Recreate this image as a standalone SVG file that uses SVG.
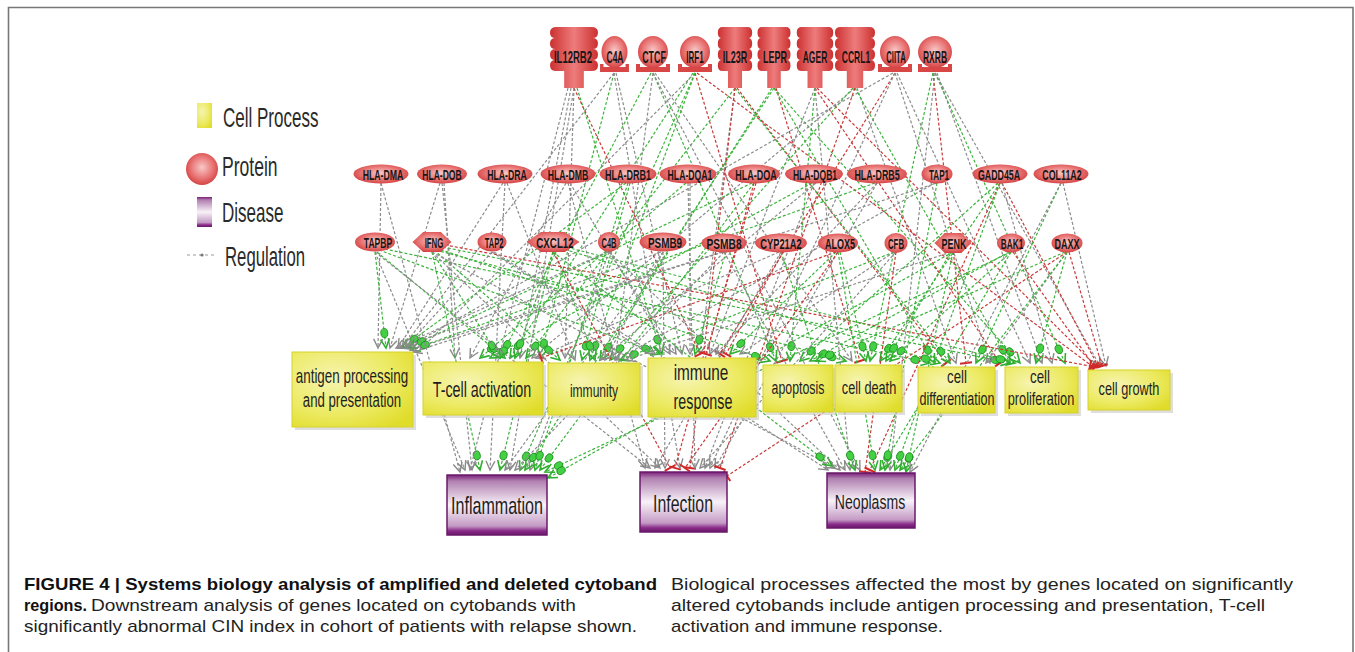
<svg xmlns="http://www.w3.org/2000/svg" xmlns:xlink="http://www.w3.org/1999/xlink" width="1355" height="652" viewBox="0 0 1355 652">
<style>
.t{font-family:"Liberation Sans",Arial,sans-serif;fill:#1e1e1e;text-anchor:middle}
.lab{font-size:17px;font-weight:bold;fill:#161616}
.el{font-size:15px;font-weight:bold;fill:#161616}
.leg{font-family:"Liberation Sans",Arial,sans-serif;fill:#2a2a2a;font-size:27px}
.cap{font-family:"Liberation Sans",Arial,sans-serif;fill:#222;font-size:17px}
.capb{font-weight:bold;fill:#111}
.c{fill:none;stroke-width:1.2;stroke-dasharray:3 2}
.g{stroke:#8c8c8c;marker-end:url(#mg)}
.v{stroke:#3cb43c;marker-end:url(#mv)}
.r{stroke:#c83a3a;marker-end:url(#mr)}
.rec{fill:url(#gRec)}
.ell{fill:url(#gEl)}
.pbox{fill:url(#gY);stroke:#d6d22a;stroke-width:1}
.dbox{fill:url(#gP);stroke:#6a1a6a;stroke-width:1.5}
.shadow{fill:#c8c8c8;opacity:0.6}
</style>
<defs>
<linearGradient id="gRec" x1="0" y1="0" x2="1" y2="0"><stop offset="0" stop-color="#cc3030"/><stop offset="0.5" stop-color="#ee7c7c"/><stop offset="1" stop-color="#cc3030"/></linearGradient>
<radialGradient id="gEl" cx="0.5" cy="0.45" r="0.6"><stop offset="0" stop-color="#f8c8c8"/><stop offset="0.55" stop-color="#ea7878"/><stop offset="1" stop-color="#d03838"/></radialGradient>
<radialGradient id="gY" cx="0.35" cy="0.35" r="0.8"><stop offset="0" stop-color="#f6f4b0"/><stop offset="0.6" stop-color="#ecea62"/><stop offset="1" stop-color="#e0dc2a"/></radialGradient>
<linearGradient id="gP" x1="0" y1="0" x2="0" y2="1"><stop offset="0" stop-color="#7a1f7a"/><stop offset="0.1" stop-color="#b080b0"/><stop offset="0.5" stop-color="#f8f2f8"/><stop offset="0.85" stop-color="#c49ac4"/><stop offset="0.93" stop-color="#8a2c8a"/><stop offset="1" stop-color="#6a166a"/></linearGradient>
<path id="recShape" d="M-16,0 H16 Q22,0 22,5.5 Q22,11 17,11 Q22,11 22,16.5 Q22,22 17,22 Q22,22 22,27.5 Q22,33 17,33 Q22,33 22,38.5 Q22,44 16,44 H9 V61 H-9 V44 H-16 Q-22,44 -22,38.5 Q-22,33 -17,33 Q-22,33 -22,27.5 Q-22,22 -17,22 Q-22,22 -22,16.5 Q-22,11 -17,11 Q-22,11 -22,5.5 Q-22,0 -16,0 Z"/>
<path id="base" d="M-17,-3 h4 v3 h26 v-3 h4 v8 h-34 z"/>
<polygon id="hexa" points="-1,0 -0.45,-10 0.45,-10 1,0 0.45,10 -0.45,10"/>
<marker id="mg" markerUnits="userSpaceOnUse" markerWidth="1" markerHeight="1" refX="0" refY="0" orient="auto" overflow="visible" style="overflow:visible">
<path d="M-9,-4.5 L0,0 L-9,4.5" fill="none" stroke="#8a8a8a" stroke-width="1.4"/>
</marker>
<marker id="mv" markerUnits="userSpaceOnUse" markerWidth="1" markerHeight="1" refX="0" refY="0" orient="auto" overflow="visible" style="overflow:visible">
<path d="M-9,-4.5 L0,0 L-9,4.5" fill="none" stroke="#2fae2f" stroke-width="1.6"/>
<ellipse cx="-15" cy="0" rx="4.5" ry="3.5" fill="#44d044" stroke="#1c8a1c" stroke-width="0.8"/>
</marker>
<marker id="mr" markerUnits="userSpaceOnUse" markerWidth="1" markerHeight="1" refX="0" refY="0" orient="auto" overflow="visible" style="overflow:visible">
<path d="M0,-6 V6" stroke="#d02828" stroke-width="2"/>
</marker>
</defs>
<rect width="1355" height="652" fill="#fff"/>
<path d="M8.5,652 V7.5 H1353 V652" fill="none" stroke="#777" stroke-width="1.6"/>

<g id="legend">
<rect x="197" y="103" width="15" height="25" fill="url(#gY)"/>
<text class="leg" transform="translate(223,127) scale(0.63,1)">Cell Process</text>
<circle cx="202" cy="169" r="16" fill="url(#gEl)"/>
<text class="leg" transform="translate(222,176) scale(0.65,1)">Protein</text>
<rect x="197" y="197" width="15" height="30" fill="url(#gP)"/>
<text class="leg" transform="translate(222,222) scale(0.63,1)">Disease</text>
<path d="M187,255 H217" stroke="#999" stroke-width="1.2" stroke-dasharray="3 3"/>
<circle cx="202" cy="255" r="1.6" fill="#777"/>
<text class="leg" transform="translate(225,266) scale(0.62,1)">Regulation</text>
</g>

<g id="connectors">
<path class="c g" d="M574 88 L565 358"/>
<path class="c g" d="M571 88 L520 358"/>
<path class="c v" d="M577 88 L662 354"/>
<path class="c g" d="M614 73 L402 348"/>
<path class="c g" d="M616 73 L682 354"/>
<path class="c v" d="M653 73 L776 361"/>
<path class="c g" d="M655 73 L852 361"/>
<path class="c v" d="M651 73 L500 358"/>
<path class="c r" d="M695 73 L782 361"/>
<path class="c v" d="M693 73 L510 358"/>
<path class="c v" d="M695 73 L590 360"/>
<path class="c r" d="M697 73 L1092 366"/>
<path class="c v" d="M735 88 L526 358"/>
<path class="c g" d="M735 88 L700 354"/>
<path class="c r" d="M737 88 L946 363"/>
<path class="c v" d="M774 88 L1020 363"/>
<path class="c v" d="M772 88 L600 360"/>
<path class="c r" d="M776 88 L860 361"/>
<path class="c g" d="M815 88 L710 354"/>
<path class="c v" d="M815 88 L790 361"/>
<path class="c r" d="M817 88 L1096 366"/>
<path class="c g" d="M855 88 L532 358"/>
<path class="c v" d="M853 88 L610 360"/>
<path class="c g" d="M857 88 L956 363"/>
<path class="c r" d="M895 73 L720 354"/>
<path class="c g" d="M893 73 L406 348"/>
<path class="c g" d="M897 73 L1030 363"/>
<path class="c g" d="M935 73 L1100 366"/>
<path class="c r" d="M933 73 L966 363"/>
<path class="c v" d="M933 73 L870 361"/>
<path class="c g" d="M937 73 L1042 363"/>
<path class="c v" d="M735 88 L950 363"/>
<path class="c v" d="M774 88 L935 363"/>
<path class="c r" d="M815 88 L1000 363"/>
<path class="c g" d="M653 73 L615 360"/>
<path class="c v" d="M614 73 L540 358"/>
<path class="c g" d="M895 73 L990 363"/>
<path class="c v" d="M935 73 L1065 363"/>
<path class="c r" d="M574 88 L700 354"/>
<path class="c v" d="M855 88 L1010 363"/>
<path class="c g" d="M695 73 L420 350"/>
<path class="c g" d="M381 183 L378 348"/>
<path class="c g" d="M440 183 L390 348"/>
<path class="c g" d="M444 183 L455 358"/>
<path class="c g" d="M503 183 L398 348"/>
<path class="c g" d="M507 183 L575 360"/>
<path class="c g" d="M566 183 L470 358"/>
<path class="c g" d="M570 183 L670 354"/>
<path class="c v" d="M626 183 L402 348"/>
<path class="c v" d="M630 183 L582 360"/>
<path class="c v" d="M686 183 L480 358"/>
<path class="c g" d="M690 183 L690 354"/>
<path class="c v" d="M752 183 L408 348"/>
<path class="c r" d="M756 183 L706 354"/>
<path class="c v" d="M812 183 L490 358"/>
<path class="c g" d="M816 183 L600 360"/>
<path class="c g" d="M877 183 L716 354"/>
<path class="c v" d="M875 183 L411 350"/>
<path class="c g" d="M937 183 L413 352"/>
<path class="c g" d="M935 183 L616 360"/>
<path class="c v" d="M998 183 L800 361"/>
<path class="c v" d="M1000 183 L880 361"/>
<path class="c r" d="M1002 183 L1098 366"/>
<path class="c g" d="M1002 183 L1052 363"/>
<path class="c v" d="M1061 183 L976 363"/>
<path class="c g" d="M1063 183 L1106 366"/>
<path class="c v" d="M375 252 L386 348"/>
<path class="c v" d="M377 252 L505 358"/>
<path class="c v" d="M379 250 L660 354"/>
<path class="c v" d="M380 248 L930 363"/>
<path class="c v" d="M432 252 L500 358"/>
<path class="c v" d="M434 250 L560 360"/>
<path class="c v" d="M436 248 L770 361"/>
<path class="c v" d="M438 246 L1010 363"/>
<path class="c r" d="M440 244 L1090 366"/>
<path class="c v" d="M436 250 L846 361"/>
<path class="c g" d="M492 252 L405 348"/>
<path class="c g" d="M494 252 L655 354"/>
<path class="c v" d="M553 252 L515 358"/>
<path class="c v" d="M555 252 L595 360"/>
<path class="c v" d="M560 248 L940 363"/>
<path class="c v" d="M562 246 L1015 363"/>
<path class="c g" d="M609 252 L676 354"/>
<path class="c g" d="M607 252 L396 348"/>
<path class="c g" d="M661 252 L400 348"/>
<path class="c g" d="M663 252 L605 360"/>
<path class="c g" d="M722 252 L410 350"/>
<path class="c v" d="M726 252 L695 354"/>
<path class="c g" d="M779 252 L536 358"/>
<path class="c r" d="M783 252 L726 354"/>
<path class="c v" d="M836 252 L730 354"/>
<path class="c v" d="M840 252 L866 361"/>
<path class="c r" d="M836 252 L541 358"/>
<path class="c g" d="M894 252 L740 354"/>
<path class="c v" d="M894 252 L620 360"/>
<path class="c v" d="M951 252 L886 361"/>
<path class="c g" d="M951 252 L626 360"/>
<path class="c v" d="M1009 252 L810 361"/>
<path class="c v" d="M1011 252 L890 361"/>
<path class="c r" d="M1013 252 L1094 366"/>
<path class="c v" d="M1065 252 L816 361"/>
<path class="c v" d="M1067 252 L1036 363"/>
<path class="c r" d="M1069 252 L1102 366"/>
<path class="c g" d="M1067 252 L986 363"/>
<path class="c g" d="M375 252 L465 470"/>
<path class="c v" d="M432 252 L480 470"/>
<path class="c g" d="M505 183 L490 470"/>
<path class="c v" d="M553 252 L500 470"/>
<path class="c g" d="M574 88 L510 470"/>
<path class="c v" d="M695 73 L520 470"/>
<path class="c v" d="M1011 252 L545 472"/>
<path class="c v" d="M953 252 L548 478"/>
<path class="c g" d="M609 252 L530 470"/>
<path class="c g" d="M724 252 L515 470"/>
<path class="c v" d="M774 88 L525 470"/>
<path class="c g" d="M568 88 L470 470"/>
<path class="c g" d="M381 183 L460 472"/>
<path class="c g" d="M442 183 L472 470"/>
<path class="c v" d="M628 183 L535 470"/>
<path class="c g" d="M663 252 L505 470"/>
<path class="c v" d="M754 183 L540 470"/>
<path class="c g" d="M375 252 L650 468"/>
<path class="c g" d="M432 252 L660 468"/>
<path class="c r" d="M553 252 L670 468"/>
<path class="c g" d="M614 73 L680 468"/>
<path class="c r" d="M735 88 L690 468"/>
<path class="c g" d="M688 183 L695 468"/>
<path class="c g" d="M896 252 L700 468"/>
<path class="c g" d="M895 73 L710 468"/>
<path class="c r" d="M1067 252 L727 476"/>
<path class="c g" d="M663 252 L665 468"/>
<path class="c g" d="M781 252 L655 468"/>
<path class="c r" d="M754 183 L675 468"/>
<path class="c g" d="M814 183 L705 468"/>
<path class="c g" d="M877 183 L715 468"/>
<path class="c r" d="M838 252 L685 468"/>
<path class="c r" d="M855 88 L720 468"/>
<path class="c g" d="M568 183 L645 468"/>
<path class="c g" d="M492 252 L828 470"/>
<path class="c g" d="M432 252 L835 468"/>
<path class="c v" d="M553 252 L832 466"/>
<path class="c r" d="M1000 183 L870 470"/>
<path class="c v" d="M1011 252 L880 470"/>
<path class="c v" d="M1067 252 L900 470"/>
<path class="c g" d="M653 73 L860 470"/>
<path class="c g" d="M815 88 L850 470"/>
<path class="c v" d="M838 252 L875 470"/>
<path class="c g" d="M935 73 L890 470"/>
<path class="c v" d="M953 252 L906 472"/>
<path class="c g" d="M724 252 L845 470"/>
<path class="c v" d="M781 252 L855 470"/>
<path class="c r" d="M896 252 L865 472"/>
<path class="c v" d="M1000 183 L895 470"/>
<path class="c g" d="M1061 183 L910 472"/>
<path class="c g" d="M609 252 L840 470"/>
<path class="c v" d="M937 183 L885 470"/>
</g>

<g id="n-IL12RB2"><use xlink:href="#recShape" class="rec" transform="translate(574,27) scale(1.09,1)"/><text class="t lab" transform="translate(573,63) scale(0.56,1)">IL12RB2</text></g>
<g id="n-C4A"><use xlink:href="#base" fill="#d84646" transform="translate(614.5,67) scale(0.85,1)"/><ellipse cx="614.5" cy="52" rx="13" ry="16" class="ell"/><text class="t lab" transform="translate(615,63) scale(0.5,1)">C4A</text></g>
<g id="n-CTCF"><use xlink:href="#base" fill="#d84646" transform="translate(653,67)"/><ellipse cx="653" cy="52" rx="15" ry="16" class="ell"/><text class="t lab" transform="translate(654,63) scale(0.52,1)">CTCF</text></g>
<g id="n-IRF1"><use xlink:href="#base" fill="#d84646" transform="translate(695,67)"/><ellipse cx="695" cy="52" rx="15" ry="16" class="ell"/><text class="t lab" transform="translate(695,63) scale(0.47,1)">IRF1</text></g>
<g id="n-IL23R"><use xlink:href="#recShape" class="rec" transform="translate(735,27) scale(0.78,1)"/><text class="t lab" transform="translate(735,63) scale(0.53,1)">IL23R</text></g>
<g id="n-LEPR"><use xlink:href="#recShape" class="rec" transform="translate(774,27) scale(0.75,1)"/><text class="t lab" transform="translate(775,63) scale(0.53,1)">LEPR</text></g>
<g id="n-AGER"><use xlink:href="#recShape" class="rec" transform="translate(815,27) scale(0.83,1)"/><text class="t lab" transform="translate(815,63) scale(0.5,1)">AGER</text></g>
<g id="n-CCRL1"><use xlink:href="#recShape" class="rec" transform="translate(855,27) scale(0.91,1)"/><text class="t lab" transform="translate(856,63) scale(0.5,1)">CCRL1</text></g>
<g id="n-CIITA"><use xlink:href="#base" fill="#d84646" transform="translate(895,67)"/><ellipse cx="895" cy="52" rx="15" ry="16" class="ell"/><text class="t lab" transform="translate(896,63) scale(0.45,1)">CIITA</text></g>
<g id="n-RXRB"><use xlink:href="#base" fill="#d84646" transform="translate(935,67)"/><ellipse cx="935" cy="52" rx="17" ry="16" class="ell"/><text class="t lab" transform="translate(935,63) scale(0.5,1)">RXRB</text></g>

<g id="n-HLA-DMA"><ellipse cx="381" cy="174" rx="27.5" ry="9.5" class="ell"/><text class="t el" transform="translate(383,179.5) scale(0.58,1)">HLA-DMA</text></g>
<g id="n-HLA-DOB"><ellipse cx="442" cy="174" rx="25" ry="9.5" class="ell"/><text class="t el" transform="translate(442,179.5) scale(0.57,1)">HLA-DOB</text></g>
<g id="n-HLA-DRA"><ellipse cx="505" cy="174" rx="27.5" ry="9.5" class="ell"/><text class="t el" transform="translate(507,179.5) scale(0.58,1)">HLA-DRA</text></g>
<g id="n-HLA-DMB"><ellipse cx="568" cy="174" rx="27.5" ry="9.5" class="ell"/><text class="t el" transform="translate(568,179.5) scale(0.58,1)">HLA-DMB</text></g>
<g id="n-HLA-DRB1"><ellipse cx="628" cy="174" rx="28.5" ry="9.5" class="ell"/><text class="t el" transform="translate(628,179.5) scale(0.6,1)">HLA-DRB1</text></g>
<g id="n-HLA-DQA1"><ellipse cx="688" cy="174" rx="28.5" ry="9.5" class="ell"/><text class="t el" transform="translate(690,179.5) scale(0.58,1)">HLA-DQA1</text></g>
<g id="n-HLA-DOA"><ellipse cx="754" cy="174" rx="26" ry="9.5" class="ell"/><text class="t el" transform="translate(756,179.5) scale(0.6,1)">HLA-DOA</text></g>
<g id="n-HLA-DQB1"><ellipse cx="814" cy="174" rx="29" ry="9.5" class="ell"/><text class="t el" transform="translate(815,179.5) scale(0.57,1)">HLA-DQB1</text></g>
<g id="n-HLA-DRB5"><ellipse cx="877" cy="174" rx="30" ry="9.5" class="ell"/><text class="t el" transform="translate(877,179.5) scale(0.59,1)">HLA-DRB5</text></g>
<g id="n-TAP1"><ellipse cx="937" cy="174" rx="15.5" ry="9.5" class="ell"/><text class="t el" transform="translate(939,179.5) scale(0.54,1)">TAP1</text></g>
<g id="n-GADD45A"><ellipse cx="1000" cy="174" rx="27.5" ry="9.5" class="ell"/><text class="t el" transform="translate(999,179.5) scale(0.59,1)">GADD45A</text></g>
<g id="n-COL11A2"><ellipse cx="1061" cy="174" rx="27.5" ry="9.5" class="ell"/><text class="t el" transform="translate(1062,179.5) scale(0.59,1)">COL11A2</text></g>

<g id="n-TAPBP"><ellipse cx="375" cy="242" rx="20" ry="9.5" class="ell"/><text class="t el" transform="translate(378,247.5) scale(0.57,1)">TAPBP</text></g>
<g id="n-IFNG"><use xlink:href="#hexa" class="ell" transform="translate(432,242) scale(19.5,1)"/><text class="t el" transform="translate(434,247.5) scale(0.52,1)">IFNG</text></g>
<g id="n-TAP2"><ellipse cx="492" cy="242" rx="14.5" ry="9.5" class="ell"/><text class="t el" transform="translate(494,247.5) scale(0.5,1)">TAP2</text></g>
<g id="n-CXCL12"><use xlink:href="#hexa" class="ell" transform="translate(553,242) scale(26.5,1)"/><text class="t el" transform="translate(555,247.5) scale(0.65,1)">CXCL12</text></g>
<g id="n-C4B"><ellipse cx="609" cy="242" rx="11" ry="10" class="ell"/><text class="t el" transform="translate(609,247.5) scale(0.5,1)">C4B</text></g>
<g id="n-PSMB9"><ellipse cx="663" cy="242" rx="23.5" ry="9.5" class="ell"/><text class="t el" transform="translate(665,247.5) scale(0.66,1)">PSMB9</text></g>
<g id="n-PSMB8"><ellipse cx="724" cy="243" rx="22.5" ry="9.5" class="ell"/><text class="t el" transform="translate(724,248.5) scale(0.68,1)">PSMB8</text></g>
<g id="n-CYP21A2"><ellipse cx="781" cy="243" rx="26" ry="9.5" class="ell"/><text class="t el" transform="translate(781,248.5) scale(0.62,1)">CYP21A2</text></g>
<g id="n-ALOX5"><ellipse cx="838" cy="243" rx="20" ry="9.5" class="ell"/><text class="t el" transform="translate(840,248.5) scale(0.6,1)">ALOX5</text></g>
<g id="n-CFB"><ellipse cx="896" cy="243" rx="11.5" ry="10" class="ell"/><text class="t el" transform="translate(896,248.5) scale(0.52,1)">CFB</text></g>
<g id="n-PENK"><use xlink:href="#hexa" class="ell" transform="translate(953,243) scale(18.5,1)"/><text class="t el" transform="translate(954,248.5) scale(0.6,1)">PENK</text></g>
<g id="n-BAK1"><ellipse cx="1011" cy="243" rx="14" ry="9.5" class="ell"/><text class="t el" transform="translate(1012,248.5) scale(0.55,1)">BAK1</text></g>
<g id="n-DAXX"><ellipse cx="1067" cy="243" rx="15.5" ry="9.5" class="ell"/><text class="t el" transform="translate(1067,248.5) scale(0.6,1)">DAXX</text></g>

<g id="p-antigen"><rect class="shadow" x="295" y="355" width="121" height="75"/><rect class="pbox" x="292" y="352" width="121" height="75"/><text class="t" font-size="20" transform="translate(352,383) scale(0.67,1)">antigen processing</text><text class="t" font-size="20" transform="translate(352,407) scale(0.66,1)">and presentation</text></g>
<g id="p-tcell"><rect class="shadow" x="426" y="365" width="120" height="53"/><rect class="pbox" x="423" y="362" width="120" height="53"/><text class="t" font-size="22" transform="translate(482,397) scale(0.65,1)">T-cell activation</text></g>
<g id="p-immunity"><rect class="shadow" x="551" y="366" width="92" height="52"/><rect class="pbox" x="548" y="363" width="92" height="52"/><text class="t" font-size="18" transform="translate(594,397) scale(0.67,1)">immunity</text></g>
<g id="p-immune"><rect class="shadow" x="651" y="361" width="108" height="59"/><rect class="pbox" x="648" y="358" width="108" height="59"/><text class="t" font-size="22" transform="translate(701,380) scale(0.7,1)">immune</text><text class="t" font-size="22" transform="translate(703,409) scale(0.65,1)">response</text></g>
<g id="p-apoptosis"><rect class="shadow" x="766" y="368" width="70" height="47"/><rect class="pbox" x="763" y="365" width="70" height="47"/><text class="t" font-size="19" transform="translate(798,394) scale(0.65,1)">apoptosis</text></g>
<g id="p-death"><rect class="shadow" x="838" y="368" width="67" height="47"/><rect class="pbox" x="835" y="365" width="67" height="47"/><text class="t" font-size="19" transform="translate(869,394) scale(0.67,1)">cell death</text></g>
<g id="p-diff"><rect class="shadow" x="921" y="370" width="77" height="46"/><rect class="pbox" x="918" y="367" width="77" height="46"/><text class="t" font-size="19" transform="translate(957,383) scale(0.7,1)">cell</text><text class="t" font-size="19" transform="translate(957,405) scale(0.66,1)">differentiation</text></g>
<g id="p-prolif"><rect class="shadow" x="1008" y="370" width="73" height="46"/><rect class="pbox" x="1005" y="367" width="73" height="46"/><text class="t" font-size="19" transform="translate(1040,383) scale(0.7,1)">cell</text><text class="t" font-size="19" transform="translate(1041,405) scale(0.67,1)">proliferation</text></g>
<g id="p-growth"><rect class="shadow" x="1091" y="373" width="82" height="40"/><rect class="pbox" x="1088" y="370" width="82" height="40"/><text class="t" font-size="19" transform="translate(1129,395) scale(0.67,1)">cell growth</text></g>

<g id="d-inflammation"><rect class="dbox" x="447" y="475" width="100" height="60"/><text class="t" font-size="24" transform="translate(497,514) scale(0.67,1)">Inflammation</text></g>
<g id="d-infection"><rect class="dbox" x="640" y="472" width="87" height="60"/><text class="t" font-size="24" transform="translate(683,512) scale(0.66,1)">Infection</text></g>
<g id="d-neoplasms"><rect class="dbox" x="827" y="473" width="88" height="55"/><text class="t" font-size="21" transform="translate(870,509) scale(0.67,1)">Neoplasms</text></g>

<g id="caption">
<text class="cap capb" x="24" y="590" textLength="633" lengthAdjust="spacingAndGlyphs">FIGURE 4 | Systems biology analysis of amplified and deleted cytoband</text>
<text class="cap capb" x="24" y="611" textLength="63" lengthAdjust="spacingAndGlyphs">regions.</text>
<text class="cap" x="91" y="611" textLength="485" lengthAdjust="spacingAndGlyphs">Downstream analysis of genes located on cytobands with</text>
<text class="cap" x="24" y="632" textLength="613" lengthAdjust="spacingAndGlyphs">significantly abnormal CIN index in cohort of patients with relapse shown.</text>
<text class="cap" x="671" y="590" textLength="622" lengthAdjust="spacingAndGlyphs">Biological processes affected the most by genes located on significantly</text>
<text class="cap" x="671" y="611" textLength="594" lengthAdjust="spacingAndGlyphs">altered cytobands include antigen processing and presentation, T-cell</text>
<text class="cap" x="671" y="632" textLength="272" lengthAdjust="spacingAndGlyphs">activation and immune response.</text>
</g>
</svg>
